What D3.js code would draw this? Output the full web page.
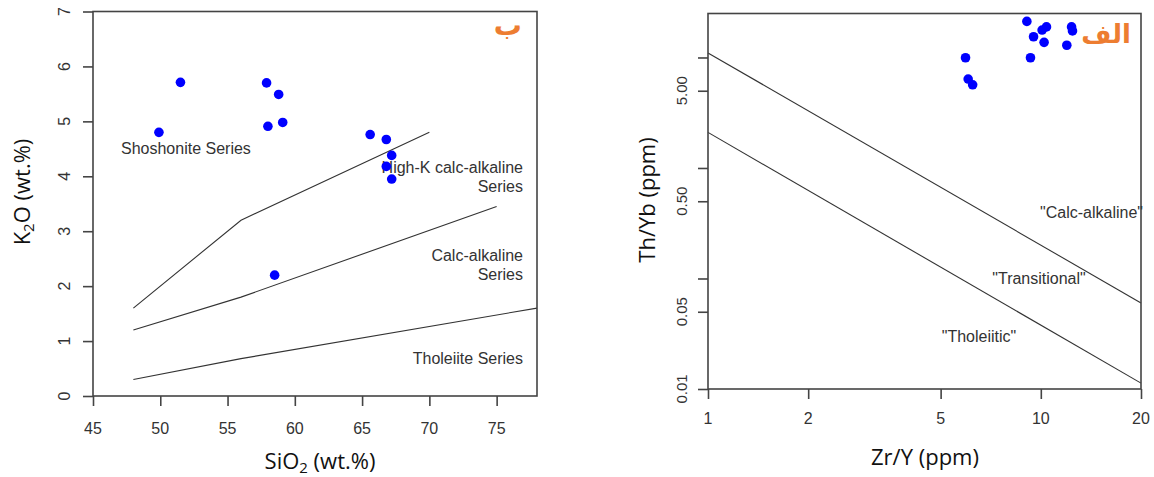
<!DOCTYPE html>
<html>
<head>
<meta charset="utf-8">
<script src="https://cdnjs.cloudflare.com/ajax/libs/d3/7.8.5/d3.min.js"></script>
<style>
  body { margin: 0; background: #fff; }
  text { font-family: "Liberation Sans", Arial, sans-serif; fill: #333; }
  .title { font-family: "Open Sans", sans-serif; font-size: 22px; fill: #111; }
  .fa { font-family: "DejaVu Sans", sans-serif; font-weight: bold; fill: #ED7D31; }
</style>
</head>
<body>
<div></div>
<script>
// ---- left diagram: K2O vs SiO2
let leftXTicks = [45, 50, 55, 60, 65, 70, 75]
let leftYTicks = [0, 1, 2, 3, 4, 5, 6, 7]
let sio2 = [49.9, 51.5, 57.9, 58.8, 58.0, 59.1, 65.6, 66.8, 67.2, 66.8, 67.2, 58.5]
let k2o = [4.8, 5.71, 5.7, 5.49, 4.91, 4.98, 4.76, 4.67, 4.38, 4.18, 3.95, 2.2]
let shoshoniteLine = [[48, 1.6], [56, 3.2], [70, 4.8]]
let highKLine = [[48, 1.2], [56, 1.8], [75, 3.45]]
let tholeiiteLine = [[48, 0.3], [56, 0.68], [78, 1.6]]

// ---- right diagram: Th/Yb vs Zr/Y
let rightXTicks = [1, 2, 5, 10, 20]
let rightYTicks = [0.01, 0.05, 0.1, 0.5, 1, 5, 10]
let rightYLabels = ["0.01", "0.05", "", "0.50", "", "5.00", ""]
let zrY = [9.08, 10.4, 10.09, 9.51, 10.23, 12.37, 12.45, 11.97, 9.31, 5.94, 6.05, 6.24]
let thYb = [21.2, 18.9, 17.7, 15.4, 13.7, 18.9, 17.4, 12.9, 9.94, 9.94, 6.38, 5.66]
let calcAlkLine = [[1, 11], [20, 0.06]]
let tholeiiticLine = [[1, 2.1], [20, 0.0113]]

let w = 1154, h = 477

let svg = d3.select("div").append("svg").attr("width", w).attr("height", h)

function frame(x, y) {
    let [x0, x1] = x.range()
    let [y0, y1] = y.range()
    svg.append("rect")
        .attr("x", x0).attr("y", y1)
        .attr("width", x1 - x0).attr("height", y0 - y1)
        .attr("fill", "none").attr("stroke", "#444").attr("stroke-width", 1.6)
}

function boundary(x, y, pts) {
    let line = d3.line().x(d => x(d[0])).y(d => y(d[1]))
    svg.append("path").attr("d", line(pts))
        .attr("fill", "none").attr("stroke", "#333").attr("stroke-width", 1.1)
}

function dots(x, y, xs, ys) {
    svg.append("g").selectAll("circle")
        .data(xs)
        .enter()
        .append("circle")
        .attr("cx", d => x(d))
        .attr("cy", (d, i) => y(ys[i]))
        .attr("r", 4.8)
        .attr("fill", "#0000FF")
}

function axes(x, y, xTicks, yTicks, yLabels, xLabelY, yLabelX, yFontSize) {
    let xAxis = d3.axisBottom(x).tickValues(xTicks).tickSize(10).tickSizeOuter(0).tickFormat("")
    let gx = svg.append("g").attr("transform", "translate(0," + y.range()[0] + ")").call(xAxis)
    gx.select(".domain").remove()
    gx.selectAll("line").attr("stroke", "#444").attr("stroke-width", 1.6)

    let yAxis = d3.axisLeft(y).tickValues(yTicks).tickSize(10).tickSizeOuter(0).tickFormat("")
    let gy = svg.append("g").attr("transform", "translate(" + x.range()[0] + ",0)").call(yAxis)
    gy.select(".domain").remove()
    gy.selectAll("line").attr("stroke", "#444").attr("stroke-width", 1.6)

    svg.append("g").selectAll("text")
        .data(xTicks)
        .enter()
        .append("text")
        .attr("x", d => x(d))
        .attr("y", xLabelY)
        .attr("text-anchor", "middle")
        .attr("font-size", 16)
        .text(d => d)

    svg.append("g").selectAll("text")
        .data(yTicks)
        .enter()
        .append("text")
        .attr("transform", d => "translate(" + yLabelX + "," + y(d) + ") rotate(-90)")
        .attr("text-anchor", "middle")
        .attr("font-size", yFontSize)
        .text((d, i) => yLabels[i])
}

// left
let xL = d3.scaleLinear().domain([45, 78]).range([93, 537])
let yL = d3.scaleLinear().domain([0, 7]).range([396, 11.5])

boundary(xL, yL, shoshoniteLine)
boundary(xL, yL, highKLine)
boundary(xL, yL, tholeiiteLine)
frame(xL, yL)
axes(xL, yL, leftXTicks, leftYTicks, leftYTicks.map(String), 434, 70, 16)

let leftNotes = [
    ["Shoshonite Series", 121, 154, "start"],
    ["High-K calc-alkaline", 523, 173, "end"],
    ["Series", 523, 192, "end"],
    ["Calc-alkaline", 523, 261, "end"],
    ["Series", 523, 280, "end"],
    ["Tholeiite Series", 523, 364, "end"]
]
svg.append("g").selectAll("text")
    .data(leftNotes)
    .enter()
    .append("text")
    .attr("x", d => d[1]).attr("y", d => d[2])
    .attr("text-anchor", d => d[3])
    .attr("font-size", 16)
    .text(d => d[0])

dots(xL, yL, sio2, k2o)

let tx = svg.append("text").attr("class", "title").attr("x", 320).attr("y", 469).attr("text-anchor", "middle")
tx.append("tspan").text("SiO")
tx.append("tspan").attr("font-size", 15).attr("dy", 4).text("2")
tx.append("tspan").attr("dy", -4).text(" (wt.%)")

let ty = svg.append("text").attr("class", "title").attr("transform", "translate(30,192) rotate(-90)").attr("text-anchor", "middle")
ty.append("tspan").text("K")
ty.append("tspan").attr("font-size", 15).attr("dy", 4).text("2")
ty.append("tspan").attr("dy", -4).text("O (wt.%)")

svg.append("text").attr("class", "fa").attr("x", 522).attr("y", 35).attr("text-anchor", "end").attr("font-size", 28).text("ب")

// right
let xR = d3.scaleLog().domain([1, 20]).range([708, 1141])
let yR = d3.scaleLog().domain([0.01, 25]).range([389, 13.5])

boundary(xR, yR, calcAlkLine)
boundary(xR, yR, tholeiiticLine)
frame(xR, yR)
axes(xR, yR, rightXTicks, rightYTicks, rightYLabels, 424, 687, 15)

let rightNotes = [
    ["\"Calc-alkaline\"", 1143, 218, "end"],
    ["\"Transitional\"", 1039, 284, "middle"],
    ["\"Tholeiitic\"", 979, 342, "middle"]
]
svg.append("g").selectAll("text")
    .data(rightNotes)
    .enter()
    .append("text")
    .attr("x", d => d[1]).attr("y", d => d[2])
    .attr("text-anchor", d => d[3])
    .attr("font-size", 16)
    .text(d => d[0])

dots(xR, yR, zrY, thYb)

svg.append("text").attr("class", "title").attr("x", 925).attr("y", 465).attr("text-anchor", "middle").text("Zr/Y (ppm)")
svg.append("text").attr("class", "title").attr("transform", "translate(655,200) rotate(-90)").attr("text-anchor", "middle").text("Th/Yb (ppm)")

svg.append("text").attr("class", "fa").attr("x", 1131).attr("y", 43).attr("text-anchor", "end").attr("font-size", 26).text("الف")
</script>
</body>
</html>
